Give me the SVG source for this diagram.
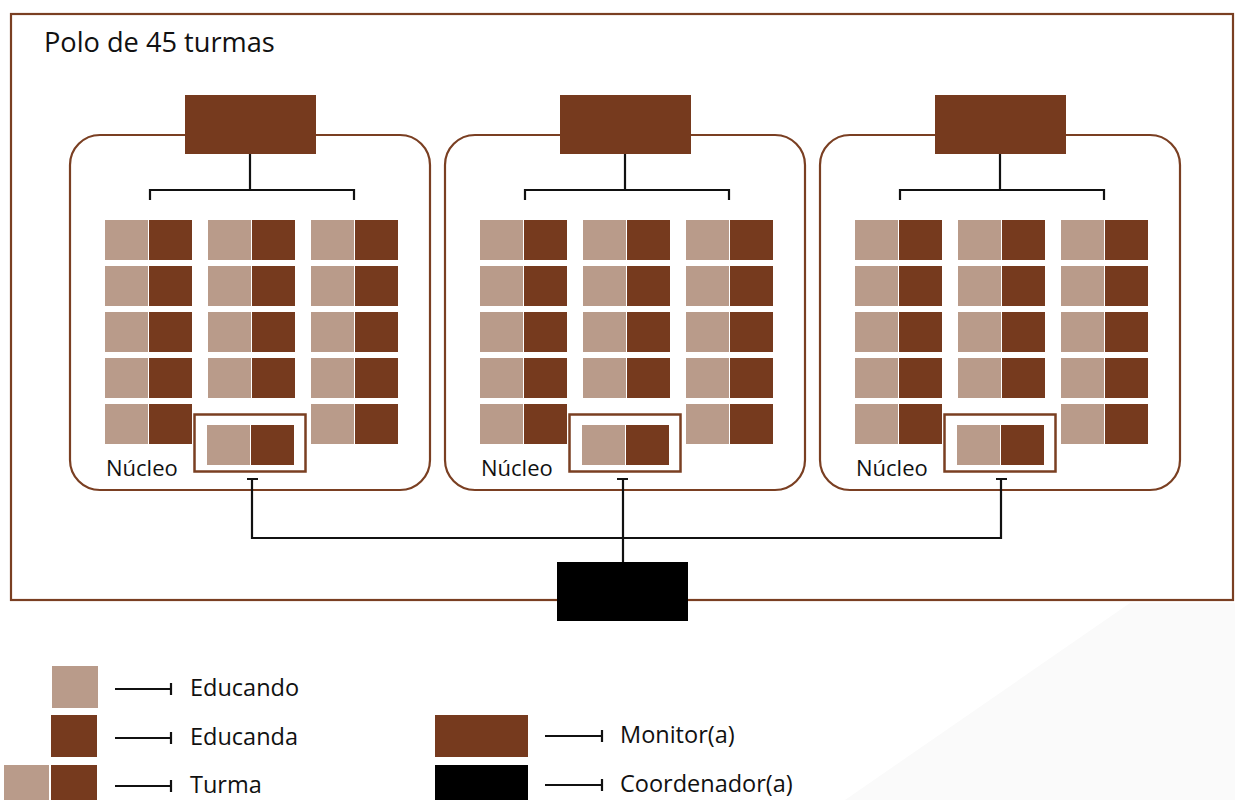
<svg xmlns="http://www.w3.org/2000/svg" width="1235" height="800" viewBox="0 0 1235 800">
<defs>
<style>
.lt{fill:#b99b8a}
.dk{fill:#763a1e}
.nuc{fill:none;stroke:#7a3f22;stroke-width:2.2}
.ob{fill:#fff;stroke:#7a3f22;stroke-width:2.5}
.ln{fill:none;stroke:#111;stroke-width:2.2}
.t{font-family:"Open Sans","Noto Sans",sans-serif;fill:#111}
.lg{font-size:23.5px}
</style>
<g id="turma">
<rect class="lt" x="0" y="0" width="43" height="40"/>
<rect class="dk" x="44" y="0" width="43" height="40"/>
</g>
<g id="nucleo">
<rect class="nuc" x="70" y="135" width="360" height="355" rx="30"/>
<rect class="dk" x="185" y="95" width="131" height="59"/>
<path class="ln" d="M250 154V190M150 200V190H354V200"/>
<use href="#turma" x="105" y="220"/><use href="#turma" x="208" y="220"/><use href="#turma" x="311" y="220"/>
<use href="#turma" x="105" y="266"/><use href="#turma" x="208" y="266"/><use href="#turma" x="311" y="266"/>
<use href="#turma" x="105" y="312"/><use href="#turma" x="208" y="312"/><use href="#turma" x="311" y="312"/>
<use href="#turma" x="105" y="358"/><use href="#turma" x="208" y="358"/><use href="#turma" x="311" y="358"/>
<use href="#turma" x="105" y="404"/><use href="#turma" x="311" y="404"/>
<rect class="ob" x="194.5" y="414.5" width="111" height="57"/>
<use href="#turma" x="207" y="425"/>
<text class="t" x="106" y="476" font-size="22">Núcleo</text>
</g>
</defs>
<polygon points="1130,603 1235,603 1235,800 845,800" fill="#fafafa"/>
<rect id="polo" x="11" y="14" width="1222" height="586" fill="none" stroke="#7a3f22" stroke-width="2.2"/>
<text class="t" x="44" y="52" font-size="27.2">Polo de 45 turmas</text>
<g id="nucleo1"><use href="#nucleo"/></g>
<g id="nucleo2"><use href="#nucleo" x="375"/></g>
<g id="nucleo3"><use href="#nucleo" x="750"/></g>
<g id="connectors">
<path class="ln" d="M247 479H258M617 479H628M996 479H1007"/>
<path class="ln" d="M252 479V538H1001V479M623 479V562"/>
</g>
<g id="coordenador"><rect x="557" y="562" width="131" height="59" fill="#000"/></g>
<g id="legend">
<rect class="lt" x="52" y="666" width="46" height="42"/>
<rect class="dk" x="51" y="715" width="46" height="42"/>
<rect class="lt" x="4" y="765" width="45" height="42"/>
<rect class="dk" x="51" y="765" width="46" height="42"/>
<rect class="dk" x="435" y="715" width="93" height="42"/>
<rect x="435" y="765" width="93" height="42" fill="#000"/>
<path class="ln" d="M115 689H171M171 683V695M115 738H171M171 732V744M115 786H171M171 780V792M545 736H602M602 730V742M545 785H602M602 779V791"/>
<text class="t lg" x="190" y="696">Educando</text>
<text class="t lg" x="190" y="745">Educanda</text>
<text class="t lg" x="190" y="793">Turma</text>
<text class="t lg" x="620" y="743">Monitor(a)</text>
<text class="t lg" x="620" y="792">Coordenador(a)</text>
</g>
</svg>
